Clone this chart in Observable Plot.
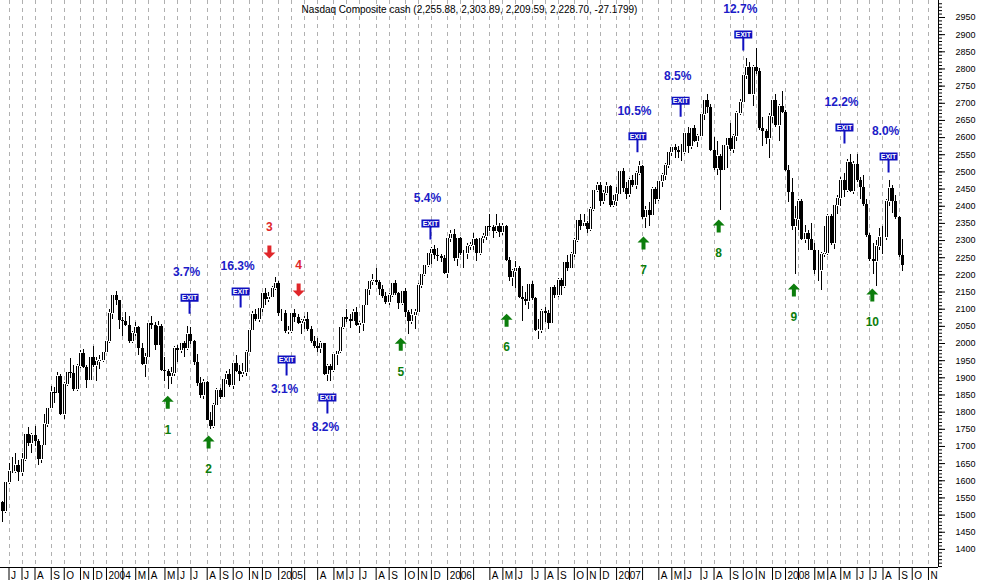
<!DOCTYPE html>
<html><head><meta charset="utf-8">
<script src="https://cdn.jsdelivr.net/npm/d3@7"></script>
<script src="https://cdn.jsdelivr.net/npm/@observablehq/plot@0.6"></script>
<style>
html,body{margin:0;padding:0;background:#fff;}
#chart svg{display:block;}
</style></head><body><div id="chart"></div>
<script>
const title = "Nasdaq Composite cash (2,255.88, 2,303.89, 2,209.59, 2,228.70, -27.1799)";
const firstWeek = "2003-05-23";
const lastWeek = "2008-09-12";

// weekly OHLC, one entry per week (2003 | 2004 | 2005 | 2006 | 2007 | 2008)
const open = [
1538,1510,1596,1627,1627,1645,1625,1663,1734,1708,1731,1715,1661,1703,1765,1810,1858,1855,1905,1792,1880,1915,1912,1865,1932,1970,1930,1893,1960,1937,1949,1951,
1974,2006,2086,2140,2124,2066,2064,2053,2007,2029,2047,1985,1940,1960,2057,2052,1995,2049,1920,1917,1904,1912,1986,1979,1999,1986,2025,2007,1946,1883,1849,1887,1777,1757,1820,1862,1844,1894,1910,1879,1942,1919,1911,1915,1975,2038,2085,2070,2101,2147,2128,2135,2160,
2175,2088,2087,2034,2035,2086,2076,2058,2065,2071,2041,2007,1990,1984,1999,1909,1932,1922,1967,1976,2048,2075,2071,2063,2090,2053,2057,2112,2156,2180,2185,2178,2157,2136,2120,2141,2175,2145,2117,2152,2090,2064,2083,2090,2169,2202,2227,2263,2273,2256,2253,2249,
2205,2306,2317,2247,2305,2262,2262,2282,2287,2302,2262,2306,2312,2340,2339,2326,2342,2323,2342,2243,2193,2210,2219,2135,2129,2121,2172,2130,2037,2039,2094,2086,2057,2163,2141,2184,2165,2235,2218,2258,2299,2357,2342,2350,2331,2390,2445,2460,2413,2437,2457,2401,
2415,2434,2502,2451,2435,2475,2459,2496,2515,2368,2387,2372,2448,2421,2471,2491,2518,2557,2572,2563,2558,2557,2613,2573,2626,2588,2603,2666,2707,2688,2562,2511,2544,2505,2576,2596,2566,2602,2671,2701,2780,2805,2726,2804,2794,2627,2618,2596,2661,2709,2636,2691,
2674,2504,2440,2340,2360,2413,2304,2321,2303,2271,2212,2212,2258,2261,2370,2290,2402,2422,2476,2445,2528,2444,2523,2474,2454,2406,2316,2245,2239,2282,2310,2310,2414,2453,2414,2368,2255.88];
const high = [
1540,1598,1650,1668,1680,1660,1680,1737,1754,1739,1757,1720,1705,1794,1811,1874,1872,1915,1910,1887,1917,1955,1935,1940,1980,1983,1935,1962,1990,1960,1965,1978,
2010,2100,2140,2153,2125,2075,2090,2080,2035,2060,2050,2000,1972,2060,2079,2060,2063,2055,1958,1925,1930,1990,1995,2002,2005,2050,2047,2008,1967,1900,1896,1890,1800,1825,1868,1870,1896,1918,1925,1945,1965,1935,1942,1980,2040,2093,2100,2105,2150,2160,2150,2165,2191,
2180,2100,2095,2050,2090,2100,2085,2070,2080,2090,2050,2020,2015,2005,2000,1940,1940,1970,1980,2050,2076,2100,2085,2100,2105,2065,2115,2157,2182,2200,2220,2185,2170,2150,2145,2178,2185,2150,2155,2160,2095,2100,2100,2175,2205,2230,2265,2280,2285,2278,2260,2255,
2310,2330,2332,2310,2310,2270,2290,2295,2320,2305,2310,2320,2345,2375,2345,2375,2350,2350,2345,2250,2215,2240,2225,2165,2150,2175,2180,2135,2070,2100,2105,2095,2165,2170,2190,2190,2240,2255,2265,2305,2360,2375,2375,2355,2395,2450,2470,2470,2445,2470,2460,2430,
2455,2505,2510,2470,2480,2490,2500,2531,2520,2400,2410,2455,2455,2475,2495,2525,2560,2575,2580,2575,2580,2615,2630,2630,2635,2610,2670,2710,2725,2695,2600,2590,2550,2580,2590,2640,2610,2675,2710,2785,2830,2820,2810,2861,2800,2660,2625,2670,2710,2725,2695,2735,
2680,2520,2480,2400,2420,2420,2345,2330,2350,2290,2270,2265,2340,2375,2375,2405,2430,2485,2495,2535,2551,2530,2550,2485,2490,2420,2320,2290,2300,2335,2340,2420,2475,2460,2430,2370,2303.89];
const low = [
1478,1505,1590,1620,1620,1598,1612,1655,1700,1680,1700,1645,1650,1700,1755,1808,1825,1850,1790,1780,1875,1898,1860,1860,1928,1928,1868,1890,1930,1890,1925,1945,
1970,2000,2070,2110,2040,2020,2050,2000,2000,2020,1965,1935,1900,1958,2040,1980,1990,1917,1890,1865,1880,1905,1945,1970,1960,1980,1998,1935,1875,1840,1837,1776,1750,1752,1818,1838,1840,1880,1872,1866,1915,1890,1900,1905,1970,2035,2065,2060,2090,2110,2120,2130,2155,
2080,2065,2030,2025,2030,2060,2055,2025,2040,2035,2000,1985,1975,1970,1906,1890,1889,1915,1935,1970,2040,2060,2045,2060,2050,2030,2035,2110,2140,2170,2170,2140,2130,2115,2110,2135,2140,2100,2110,2075,2025,2055,2040,2088,2160,2195,2222,2230,2245,2240,2235,2200,
2190,2295,2240,2225,2255,2220,2245,2270,2270,2240,2255,2290,2300,2325,2305,2320,2310,2315,2240,2180,2165,2160,2130,2065,2110,2100,2125,2035,2012,2030,2060,2040,2055,2130,2135,2140,2160,2210,2215,2250,2295,2330,2340,2320,2325,2385,2440,2400,2405,2430,2395,2395,
2400,2430,2440,2420,2425,2455,2450,2490,2360,2335,2340,2370,2405,2415,2455,2475,2510,2545,2540,2540,2530,2550,2555,2565,2585,2570,2600,2650,2670,2560,2505,2490,2387,2500,2510,2560,2555,2590,2665,2700,2770,2725,2690,2785,2620,2575,2580,2540,2640,2630,2590,2670,
2500,2410,2330,2202,2330,2300,2290,2270,2270,2200,2180,2155,2250,2255,2285,2275,2375,2400,2425,2440,2440,2435,2470,2420,2400,2310,2240,2200,2167,2270,2260,2300,2400,2380,2360,2250,2209.59];
const close = [
1510,1595,1627,1626,1645,1625,1663,1734,1708,1731,1715,1661,1703,1765,1810,1858,1855,1905,1792,1880,1915,1912,1865,1932,1970,1930,1893,1960,1937,1949,1951,1974,
2006,2086,2140,2124,2066,2064,2053,2007,2029,2047,1985,1940,1960,2057,2052,1995,2049,1920,1917,1904,1912,1986,1979,1999,1986,2025,2007,1946,1883,1849,1887,1777,1757,1820,1862,1844,1894,1910,1879,1942,1919,1911,1915,1975,2038,2085,2070,2101,2147,2128,2135,2160,2175,
2088,2087,2034,2035,2086,2076,2058,2065,2071,2041,2007,1990,1984,1999,1909,1932,1922,1967,1976,2048,2075,2071,2063,2090,2053,2057,2112,2156,2180,2185,2178,2157,2136,2120,2141,2175,2145,2117,2152,2090,2064,2083,2090,2169,2202,2227,2263,2273,2256,2253,2249,2205,
2306,2317,2247,2305,2262,2262,2282,2287,2302,2262,2306,2312,2340,2339,2326,2342,2323,2342,2243,2193,2210,2219,2135,2129,2121,2172,2130,2037,2039,2094,2086,2057,2163,2141,2184,2165,2235,2218,2258,2299,2357,2342,2350,2331,2390,2445,2460,2413,2437,2457,2401,2415,
2434,2502,2451,2435,2475,2459,2496,2515,2368,2387,2372,2448,2421,2471,2491,2518,2557,2572,2563,2558,2557,2613,2573,2626,2588,2603,2666,2707,2688,2562,2511,2544,2505,2576,2596,2566,2602,2671,2701,2780,2805,2726,2804,2794,2627,2618,2596,2661,2709,2636,2691,2674,
2504,2440,2340,2360,2413,2304,2321,2303,2271,2212,2212,2258,2261,2370,2290,2402,2422,2476,2445,2528,2444,2523,2474,2454,2406,2316,2245,2239,2282,2310,2310,2414,2453,2414,2368,2256,2228.70];

// month tick labels, June 2003 .. November 2008
const monthLabels = [
"J","J","A","S","O","N","D",
"2004","","M","A","M","J","J","A","S","O","N","D",
"2005","","","A","M","J","J","A","S","O","N","D",
"2006","","","A","M","J","J","A","S","O","N","D",
"2007","","","A","M","J","J","A","S","O","N","D",
"2008","","M","A","M","J","J","A","S","O","N"];
const yTicks = d3.range(1400, 2951, 50);

// entry signals (arrow tip price)
const signalDates  = ["2004-05-13","2004-08-09","2004-12-18","2005-02-19","2005-09-27","2006-05-13","2007-03-04","2007-08-13","2008-01-22","2008-07-09"];
const signalPrices = [1848,1732,2248,2137,2017,2087,2312,2361,2175,2160];
const signalLabels = ["1","2","3","4","5","6","7","8","9","10"];
const signalDirs   = ["up","up","down","down","up","up","up","up","up","up"];

// exit flags (foot of the flag pole) and gains
const exitDates  = ["2004-06-29","2004-10-17","2005-01-24","2005-04-22","2005-11-30","2007-02-19","2007-05-23","2007-10-05","2008-05-10","2008-08-13"];
const exitPrices = [2087,2105,1907,1796,2303,2557,2661,2854,2583,2498];
const exitLabels = ["3.7%","16.3%","3.1%","8.2%","5.4%","10.5%","8.5%","12.7%","12.2%","8.0%"];
const exitSides  = ["above","above","below","below","above","above","above","above","above","above"];

// ---- build tables ----
const weeks = d3.utcFriday.range(new Date(firstWeek), d3.utcDay.offset(new Date(lastWeek), 1));
const bars = weeks.map((date, i) => ({date, open: open[i], high: high[i], low: low[i], close: close[i]}));
const upBars = bars.filter(b => b.close > b.open);
const monthTicks = d3.utcMonths(new Date("2003-06-01"), new Date("2008-12-01")).map(m => d3.utcFriday.ceil(m));
const ticks = monthTicks.map((date, i) => ({date, label: monthLabels[i]}));
const signals = signalDates.map((d, i) => ({date: new Date(d), price: signalPrices[i], label: signalLabels[i], dir: signalDirs[i]}));
const exits = exitDates.map((d, i) => ({date: new Date(d), price: exitPrices[i], label: exitLabels[i], side: exitSides[i]}));

const green = "#0c7d0c", red = "#e0262a", blue = "#1c1cc8", flagBlue = "#1010c0";
const arrowUp = {draw(c) { c.moveTo(0,0); c.lineTo(6,6); c.lineTo(2,6); c.lineTo(2,13); c.lineTo(-2,13); c.lineTo(-2,6); c.lineTo(-6,6); c.closePath(); }};
const arrowDown = {draw(c) { c.moveTo(0,0); c.lineTo(6,-6); c.lineTo(2,-6); c.lineTo(2,-13); c.lineTo(-2,-13); c.lineTo(-2,-6); c.lineTo(-6,-6); c.closePath(); }};
const flag = {draw(c) { c.rect(-1,-12,2,12); c.rect(-9,-20,18,8); }};

const font = "'Liberation Sans', Arial, Helvetica, sans-serif";
const chart = Plot.plot({
  width: 981, height: 581,
  marginTop: 0, marginRight: 43, marginBottom: 14, marginLeft: 0,
  x: {type: "utc", domain: [new Date("2003-05-18T16:00Z"), new Date("2008-11-28T14:00Z")], axis: null},
  y: {domain: [1347.3, 2999.5], axis: null},
  style: {fontFamily: font, background: "#fff", color: "#000", overflow: "visible"},
  marks: [
    Plot.ruleX(ticks, {x: "date", stroke: "#b0b0b0", strokeDasharray: "4,4", shapeRendering: "crispEdges"}),
    Plot.text([title], {frameAnchor: "top", dy: 9, fontSize: 10, lineAnchor: "middle", fill: "#000"}),
    // candles
    Plot.ruleX(bars, {x: "date", y1: "low", y2: "high", stroke: "#000", strokeWidth: 1, shapeRendering: "crispEdges"}),
    Plot.ruleX(bars, {x: "date", y1: "open", y2: "close", stroke: "#000", strokeWidth: 3, shapeRendering: "crispEdges"}),
    Plot.ruleX(upBars, {x: "date", y1: "open", y2: "close", stroke: "#fff", strokeWidth: 1, insetTop: 1, insetBottom: 1, shapeRendering: "crispEdges"}),
    // signals
    Plot.dot(signals.filter(d => d.dir === "up"), {x: "date", y: "price", symbol: arrowUp, fill: green, stroke: "none", r: 6}),
    Plot.dot(signals.filter(d => d.dir === "down"), {x: "date", y: "price", symbol: arrowDown, fill: red, stroke: "none", r: 6}),
    Plot.text(signals.filter(d => d.dir === "up"), {x: "date", y: "price", text: "label", dy: 34, fill: green, fontSize: 12, fontWeight: "bold", lineAnchor: "middle"}),
    Plot.text(signals.filter(d => d.dir === "down"), {x: "date", y: "price", text: "label", dy: -31, fill: red, fontSize: 12, fontWeight: "bold", lineAnchor: "middle"}),
    // exits
    Plot.dot(exits, {x: "date", y: "price", symbol: flag, fill: flagBlue, stroke: "none", r: 6}),
    Plot.text(exits, {x: "date", y: "price", text: () => "EXIT", dy: -16, fill: "#fff", fontSize: 7, fontWeight: "bold", lineAnchor: "middle"}),
    Plot.text(exits.filter(d => d.side === "above"), {x: "date", y: "price", text: "label", dy: -41, dx: -3, fill: blue, fontSize: 12, fontWeight: "bold", lineAnchor: "middle"}),
    Plot.text(exits.filter(d => d.side === "below"), {x: "date", y: "price", text: "label", dy: 14, dx: -2, fill: blue, fontSize: 12, fontWeight: "bold", lineAnchor: "middle"}),
    // axes
    Plot.ruleY([1347.3], {stroke: "#000", shapeRendering: "crispEdges"}),
    Plot.ruleX([new Date("2008-11-28T14:00Z")], {stroke: "#000", shapeRendering: "crispEdges"}),
    Plot.axisX(monthTicks, {anchor: "bottom", tickSize: 13, fill: "none", stroke: "#000"}),
    Plot.text(ticks, {x: "date", text: "label", frameAnchor: "bottom", dy: 8, dx: 2, textAnchor: "start", lineAnchor: "middle", fontSize: 10, fill: "#000"}),
    Plot.axisY(d3.range(1350, 3000, 10), {anchor: "right", tickSize: 3, fill: "none", stroke: "#000"}),
    Plot.axisY(yTicks, {anchor: "right", tickSize: 6, tickPadding: 11, textAnchor: "start", tickFormat: d => String(d), fontSize: 9, fill: "#000", stroke: "#000"})
  ]
});
document.getElementById("chart").appendChild(chart);
</script>
</body></html>
